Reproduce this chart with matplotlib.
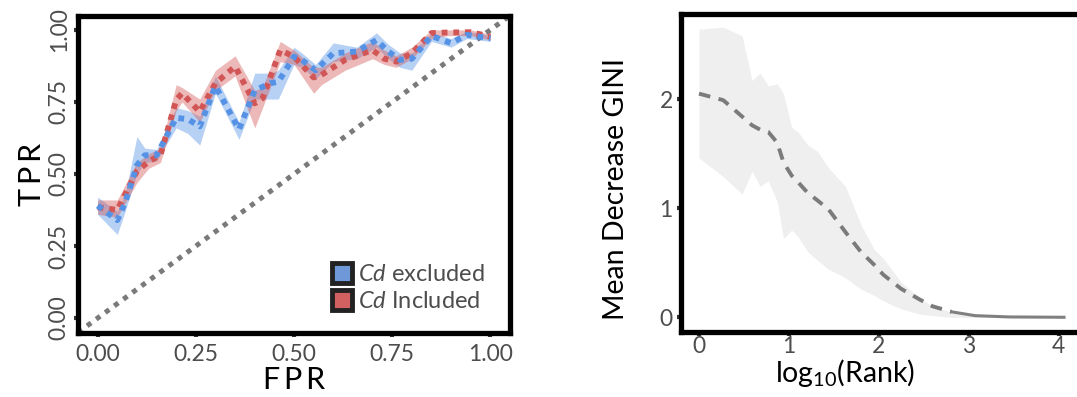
import matplotlib
matplotlib.use('Agg')
import numpy as np
import matplotlib.pyplot as plt
from matplotlib.patches import Patch

plt.rcParams['font.family'] = ['Lato', 'DejaVu Sans']
plt.rcParams['mathtext.fontset'] = 'custom'
plt.rcParams['mathtext.rm'] = 'Lato'
plt.rcParams['mathtext.it'] = 'Lato:italic'

# ROC curve, Cd excluded
excl_fpr = [0.00, 0.05, 0.07, 0.10, 0.12, 0.15, 0.20, 0.23, 0.26, 0.30, 0.36, 0.40, 0.44, 0.46,
            0.50, 0.52, 0.555, 0.60, 0.66, 0.71, 0.74, 0.77, 0.80, 0.85, 0.90, 0.94, 1.00]
excl_tpr = [0.39, 0.34, 0.40, 0.53, 0.565, 0.565, 0.695, 0.69, 0.665, 0.805, 0.655, 0.79, 0.815, 0.82,
            0.907, 0.896, 0.86, 0.919, 0.925, 0.965, 0.925, 0.896, 0.90, 0.979, 0.954, 0.983, 0.971]
excl_lo = [0.36, 0.29, 0.37, 0.50, 0.54, 0.545, 0.66, 0.64, 0.60, 0.78, 0.62, 0.76, 0.76, 0.76,
           0.88, 0.87, 0.83, 0.89, 0.90, 0.94, 0.90, 0.87, 0.86, 0.96, 0.94, 0.97, 0.96]
excl_hi = [0.42, 0.37, 0.43, 0.63, 0.59, 0.585, 0.73, 0.72, 0.70, 0.84, 0.68, 0.85, 0.85, 0.86,
           0.94, 0.92, 0.88, 0.955, 0.94, 0.99, 0.95, 0.92, 0.92, 0.99, 0.97, 0.995, 0.98]

# ROC curve, Cd included
incl_fpr = [0.00, 0.05, 0.10, 0.13, 0.16, 0.20, 0.215, 0.26, 0.30, 0.35, 0.40, 0.42, 0.465,
            0.50, 0.55, 0.57, 0.63, 0.70, 0.73, 0.76, 0.80, 0.85, 0.89, 0.95, 1.00]
incl_tpr = [0.385, 0.375, 0.51, 0.543, 0.566, 0.757, 0.78, 0.716, 0.815, 0.873, 0.745, 0.763, 0.93,
            0.907, 0.835, 0.844, 0.896, 0.93, 0.90, 0.89, 0.919, 0.989, 0.991, 0.992, 0.977]
incl_lo = [0.36, 0.35, 0.47, 0.52, 0.54, 0.72, 0.75, 0.68, 0.79, 0.84, 0.66, 0.73, 0.89,
           0.88, 0.78, 0.81, 0.86, 0.90, 0.88, 0.87, 0.90, 0.97, 0.98, 0.98, 0.965]
incl_hi = [0.41, 0.41, 0.54, 0.57, 0.59, 0.81, 0.80, 0.76, 0.86, 0.91, 0.79, 0.80, 0.96,
           0.93, 0.87, 0.87, 0.92, 0.96, 0.93, 0.91, 0.94, 1.00, 1.00, 1.00, 0.985]

# feature importance vs rank
log_rank = [0.00, 0.27, 0.48, 0.59, 0.68, 0.77, 0.87, 0.94, 1.03, 1.10, 1.21, 1.32, 1.44,
            1.54, 1.63, 1.80, 1.95, 2.05, 2.25, 2.45, 2.60, 2.81, 3.07, 3.45, 4.06]
gini_mean = [2.05, 1.99, 1.84, 1.76, 1.72, 1.70, 1.60, 1.42, 1.30, 1.24, 1.14, 1.07, 0.99,
             0.88, 0.78, 0.60, 0.48, 0.39, 0.26, 0.165, 0.10, 0.05, 0.015, 0.003, 0.0]
gini_hi = [2.64, 2.66, 2.58, 2.17, 2.24, 2.12, 2.14, 2.05, 1.74, 1.70, 1.58, 1.52, 1.37,
           1.28, 1.20, 0.85, 0.62, 0.54, 0.32, 0.18, 0.10, 0.046, 0.012, 0.004, 0.0]
gini_lo = [1.46, 1.29, 1.13, 1.34, 1.20, 1.25, 1.06, 0.72, 0.80, 0.74, 0.60, 0.52, 0.44,
           0.40, 0.36, 0.26, 0.20, 0.15, 0.077, 0.03, 0.015, 0.0, 0.0, 0.0, 0.0]

roc_ticks = [0.00, 0.25, 0.50, 0.75, 1.00]
roc_ticklabels = ['0.00', '0.25', '0.50', '0.75', '1.00']

BLUE = '#5592E6'
RED = '#D25656'
GRAY_TXT = '#4D4D4D'

W, H = 1077, 397
fig = plt.figure(figsize=(W / 100, H / 100), dpi=100)

def px_axes(l, r, t, b):
    return fig.add_axes([l / W, 1 - b / H, (r - l) / W, (b - t) / H])

def style(ax):
    for s in ax.spines.values():
        s.set_linewidth(3.8)
        s.set_color('black')
    ax.tick_params(length=3, width=3, color='#333333', labelcolor=GRAY_TXT, labelsize=16.5)

# ---- left: ROC ----
ax1 = px_axes(78, 510, 15.5, 332.5)
style(ax1)
ax1.set_xlim(-0.05, 1.05)
ax1.set_ylim(-0.05, 1.05)

ax1.axline((0, 0), (1, 1), color='#7A7A7A', lw=3.6, linestyle=(0, (1, 1.25)),
           dash_capstyle='butt', zorder=1)

ax1.fill_between(excl_fpr, excl_lo, excl_hi, color=BLUE, alpha=0.42, lw=0, zorder=2)
ax1.fill_between(incl_fpr, incl_lo, incl_hi, color=RED, alpha=0.42, lw=0, zorder=2)
ax1.plot(incl_fpr, incl_tpr, color=RED, lw=4.2, linestyle=(0, (1, 1)),
         dash_capstyle='butt', zorder=3)
ax1.plot(excl_fpr, excl_tpr, color=BLUE, lw=4.2, linestyle=(0, (1, 1)),
         dash_capstyle='butt', zorder=3)

ax1.set_xticks(roc_ticks)
ax1.set_xticklabels(roc_ticklabels)
ax1.set_yticks(roc_ticks)
ax1.set_yticklabels(roc_ticklabels, rotation=90, va='center')
ax1.tick_params(axis='x', pad=5)
ax1.tick_params(axis='y', pad=3)
ax1.set_xlabel('F\u2009P\u2009R', fontsize=22, labelpad=1)
ax1.set_ylabel('T\u2009P\u2009R', fontsize=22, labelpad=2)

handles = [Patch(facecolor='#6F98D8', edgecolor='#222222', lw=3.5),
           Patch(facecolor='#D16060', edgecolor='#222222', lw=3.5)]
leg = ax1.legend(handles, [r'$\it{Cd}$ excluded', r'$\it{Cd}$ Included'],
                 loc='lower right', bbox_to_anchor=(0.975, 0.02), frameon=False,
                 fontsize=17, handlelength=0.85, handleheight=0.9, handletextpad=0.25,
                 labelspacing=0.2, borderaxespad=0.2)
for t in leg.get_texts():
    t.set_color(GRAY_TXT)

# ---- right: mean decrease GINI ----
ax2 = px_axes(681, 1082, 14, 332)
style(ax2)
ax2.set_xlim(-0.2, 4.26)
ax2.set_ylim(-0.135, 2.78)

ax2.fill_between(log_rank, gini_lo, gini_hi, color='#EFEFEF', lw=0, zorder=1)
n_dash = 22
ax2.plot(log_rank[:n_dash], gini_mean[:n_dash], color='#7B7B7B', lw=2.8,
         linestyle=(0, (3, 2.2)), zorder=2)
ax2.plot(log_rank[n_dash - 1:], gini_mean[n_dash - 1:], color='#808080', lw=2.2, zorder=2)

ax2.set_xticks([0, 1, 2, 3, 4])
ax2.set_yticks([0, 1, 2])
ax2.tick_params(axis='x', pad=0)
ax2.tick_params(axis='y', pad=3)
ax2.set_xlabel(r'log$_{10}$(Rank)', fontsize=20.5)
ax2.set_ylabel('Mean Decrease GINI', fontsize=20.5)
ax2.xaxis.set_label_coords(0.41, -0.08)
ax2.yaxis.set_label_coords(-0.13, 0.45)

fig.savefig('out.png', dpi=100)
